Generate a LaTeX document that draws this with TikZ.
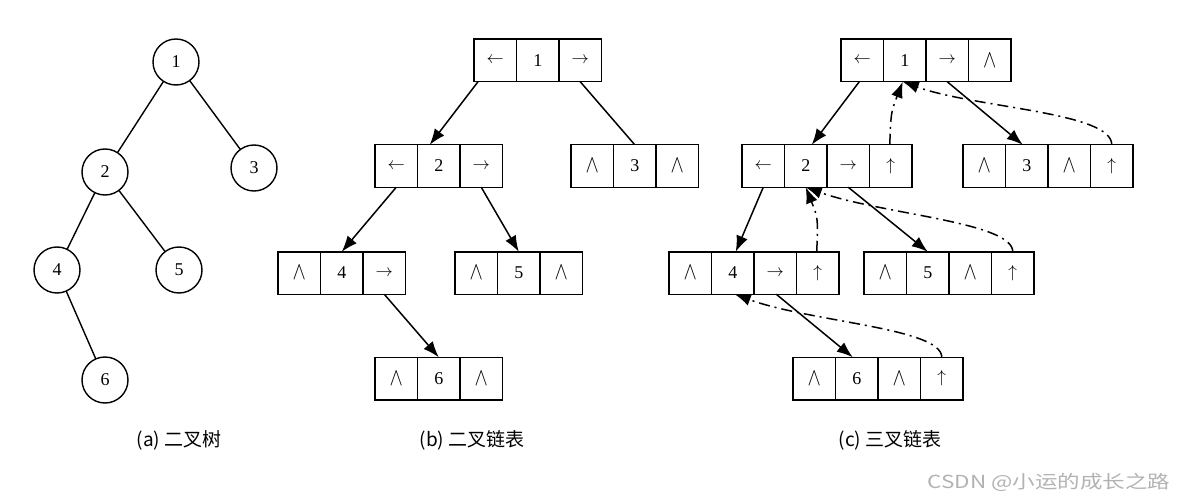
\documentclass[tikz,border=0pt]{standalone}
\usepackage{fontspec}
\setmainfont{Liberation Serif}
\newfontfamily\cjk{Noto Sans CJK SC}
\newfontfamily\wmark[FakeStretch=1.25]{Noto Sans CJK SC}
\usepackage{amsmath}
\usetikzlibrary{arrows.meta}
\newcommand{\nil}{\scalebox{1.15}[1.45]{$\wedge$}}

\begin{document}
\begin{tikzpicture}[x=1pt,y=-1pt,
    cell/.style={draw, line width=1.5pt, minimum width=42.5pt, minimum height=42.5pt,
      inner sep=0pt, outer sep=0pt, font=\fontsize{18}{18}\selectfont},
    tnode/.style={draw, circle, line width=1.4pt, minimum size=46pt, inner sep=0pt,
      outer sep=0pt, font=\fontsize{18}{18}\selectfont},
    ptr/.style={line width=1.5pt, -{Latex[length=16pt,width=12pt]}},
    uplink/.style={ptr, dash pattern=on 11pt off 5pt on 2pt off 5pt},
    caption/.style={font=\cjk\fontsize{19}{19}\selectfont}]
    \useasboundingbox (0,0) rectangle (1178,500);
    % (a) tree
    \node[tnode] (n1) at (176,62) {1};
    \node[tnode] (n2) at (105,172) {2};
    \node[tnode] (n3) at (254,168) {3};
    \node[tnode] (n4) at (57,270) {4};
    \node[tnode] (n5) at (179,270) {5};
    \node[tnode] (n6) at (105,380) {6};
    \draw[line width=1.4pt] (n1) -- (n2);
    \draw[line width=1.4pt] (n1) -- (n3);
    \draw[line width=1.4pt] (n2) -- (n4);
    \draw[line width=1.4pt] (n2) -- (n5);
    \draw[line width=1.4pt] (n4) -- (n6);
    % (b) binary list
    \foreach \n/\x/\y/\L/\R in {1/474/60.5/$\leftarrow$/$\rightarrow$, 2/375/166/$\leftarrow$/$\rightarrow$,
        3/571/166/\nil/\nil, 4/278/273/\nil/$\rightarrow$, 5/455/273/\nil/\nil,
        6/375/378.5/\nil/\nil} {
      \node[cell] (b\n l) at (\x+21.25,\y) {\L};
      \node[cell] (b\n d) at (\x+63.75,\y) {\n};
      \node[cell] (b\n r) at (\x+106.25,\y) {\R};
    }
    \draw[ptr] ([xshift=4pt]b1l.south west) -- ([xshift=-9pt]b2d.north);
    \draw[line width=1.5pt] (b1r.south) -- (b3d.north);
    \draw[ptr] (b2l.south) -- (b4d.north);
    \draw[ptr] (b2r.south) -- (b5d.north);
    \draw[ptr] (b4r.south) -- (b6d.north);
    % (c) trinary list
    \foreach \n/\x/\y/\L/\R/\P in {1/841/60.5/$\leftarrow$/$\rightarrow$/\nil,
        2/742/166/$\leftarrow$/$\rightarrow$/$\uparrow$, 3/963/166/\nil/\nil/$\uparrow$,
        4/669/273/\nil/$\rightarrow$/$\uparrow$, 5/864/273/\nil/\nil/$\uparrow$,
        6/793/378.5/\nil/\nil/$\uparrow$} {
      \node[cell] (c\n l) at (\x+21.25,\y) {\L};
      \node[cell] (c\n d) at (\x+63.75,\y) {\n};
      \node[cell] (c\n r) at (\x+106.25,\y) {\R};
      \node[cell] (c\n p) at (\x+148.75,\y) {\P};
    }
    \draw[ptr] ([xshift=-3pt]c1l.south) -- ([xshift=6pt]c2d.north);
    \draw[ptr] (c1r.south) -- ([xshift=-4pt]c3d.north);
    \draw[ptr] (c2l.south) -- ([xshift=3pt]c4d.north);
    \draw[ptr] (c2r.south) -- (c5d.north);
    \draw[ptr] ([xshift=1pt]c4r.south) -- ([xshift=-4pt]c6d.north);
    \draw[uplink] ([xshift=-1pt]c2p.north) .. controls (891,112) .. ([xshift=-2pt]c1d.south);
    \draw[uplink] (c3p.north) .. controls (1112,112) and (975,108) .. ([xshift=-2pt]c1d.south);
    \draw[uplink] ([xshift=-1pt]c4p.north) .. controls (818,218) .. (c2d.south);
    \draw[uplink] (c5p.north) .. controls (1013,222) and (880,214) .. (c2d.south);
    \draw[uplink] (c6p.north) .. controls (942,328) and (810,322) .. ([xshift=2pt]c4d.south);
    % captions
    \node[caption] (capa) at (179,440) {(a) 二叉树};
    \node[caption] (capb) at (472,440) {(b) 二叉链表};
    \node[caption] (capc) at (890,440) {(c) 三叉链表};
    \node[font=\wmark\fontsize{18}{18}\selectfont, text=black!30, anchor=east] (wm) at (1174,482)
      {CSDN @小运的成长之路};
\end{tikzpicture}
\end{document}
